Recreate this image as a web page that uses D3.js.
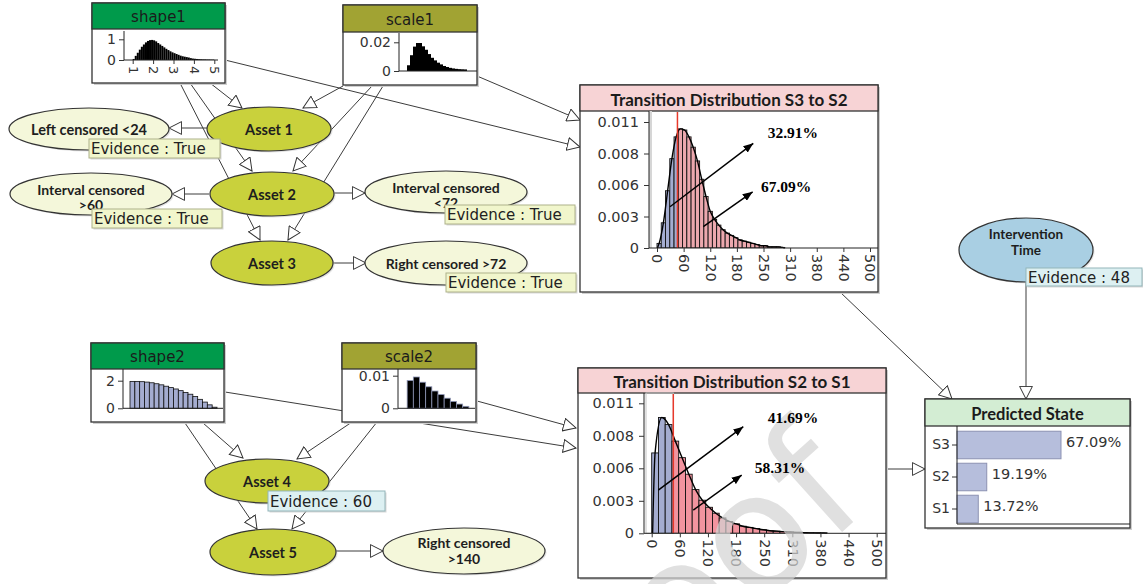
<!DOCTYPE html>
<html>
<head>
<meta charset="utf-8">
<script src="https://cdn.jsdelivr.net/npm/d3@7"></script>
<style>
  body { margin: 0; background: #fff; }
  svg { display: block; }
</style>
</head>
<body>
<div id="chart"></div>
<script>
//Datos leidos del grafico
// densidades de los histogramas (bins de ancho fijo)
const shape1Density = [0.05, 0.2, 0.35, 0.5, 0.64, 0.75, 0.85, 0.92, 0.96, 0.97,
  0.95, 0.9, 0.82, 0.75, 0.68, 0.61, 0.54, 0.48, 0.42, 0.37,
  0.33, 0.29, 0.25, 0.21, 0.18, 0.16, 0.14, 0.12, 0.09, 0.07,
  0.06, 0.05, 0.04, 0.035, 0.03, 0.03, 0.025, 0.025, 0.02, 0.02];
const scale1Density = [0.004, 0.011, 0.017, 0.0195, 0.0195, 0.0172, 0.0148, 0.0118, 0.0092, 0.0074,
  0.0058, 0.0046, 0.0035, 0.0028, 0.0022, 0.0018, 0.0015, 0.0013, 0.0012, 0.0011];
const shape2Density = [1.95, 1.95, 1.93, 1.9, 1.85, 1.78, 1.7, 1.6, 1.5, 1.4,
  1.28, 1.15, 1.02, 0.85, 0.65, 0.45, 0.25, 0.08];
const scale2Density = [0.0085, 0.0096, 0.008, 0.0066, 0.0053, 0.0042, 0.0031, 0.0021, 0.0013, 0.0006];
const s3s2Density = [0.0004, 0.0022, 0.005, 0.0078, 0.0097, 0.0104, 0.0103, 0.0097, 0.0088, 0.0076,
  0.006, 0.0045, 0.0032, 0.0025, 0.002, 0.0016, 0.0013, 0.0011, 0.0009, 0.0007,
  0.0006, 0.0005, 0.0004, 0.0003, 0.0002, 0.0002, 0.0001, 0.0001, 0.0001, 0.00005];
const s2s1Density = [0.0068, 0.0098, 0.0092, 0.0078, 0.0064, 0.005, 0.0037, 0.0028, 0.0022, 0.0017,
  0.0013, 0.001, 0.0008, 0.0006, 0.0005, 0.0004, 0.0003, 0.00022, 0.00018, 0.00014,
  0.00011, 0.00008, 0.00006, 0.00004, 0.00003, 0.00002];

// ejes
const shape1XTicks = [1, 2, 3, 4, 5];
const shape1YTicks = [0, 1];
const scale1YTicks = [0, 0.02];
const shape2YTicks = [0, 2];
const scale2YTicks = [0, 0.01];
const transXTicks = [0, 62.5, 125, 187.5, 250, 312.5, 375, 437.5, 500];
const transXLabels = ['0', '60', '120', '180', '250', '310', '380', '440', '500'];
const transYTicks = [0, 0.00275, 0.0055, 0.00825, 0.011];
const transYLabels = ['0', '0.003', '0.006', '0.008', '0.011'];

const interventionTime = 48;
const s3s2Split = ['32.91%', '67.09%'];
const s2s1Split = ['41.69%', '58.31%'];

const states = ['S3', 'S2', 'S1'];
const stateProb = [67.09, 19.19, 13.72];

//Colores
const C = {
  line: '#3c3c3c',
  asset: '#c9d13c',
  censor: '#f4f7da',
  interv: '#a9cfe3',
  evTrue: '#f1f6cc', evTrueStroke: '#aeb28a',
  evNum: '#ddf0f2', evNumStroke: '#93b6ba',
  headShape: '#009a4b', headScale: '#a1a333', headTrans: '#f7d3d5', headPred: '#d3edd3',
  blue: '#a4acd0', pinkA: '#eca8ae', pinkB: '#f2949f',
  predBar: '#b6bedc', predStroke: '#8c92b2', axis: '#333'
};
const FONT = '"DejaVu Sans", sans-serif';
const BOLD = 'Lato, "DejaVu Sans", sans-serif';

const W = 1143, H = 584;
const svg = d3.select('#chart').append('svg').attr('width', W).attr('height', H);
svg.append('rect').attr('width', W).attr('height', H).attr('fill', '#fff');

const defs = svg.append('defs');
defs.append('marker').attr('id', 'open')
  .attr('viewBox', '0 0 14 14').attr('refX', 13.2).attr('refY', 7)
  .attr('markerWidth', 14).attr('markerHeight', 14)
  .attr('markerUnits', 'userSpaceOnUse').attr('orient', 'auto')
  .append('path').attr('d', 'M0.6,0.6 L13.2,7 L0.6,13.4 Z')
  .attr('fill', '#fff').attr('stroke', '#333').attr('stroke-width', 1);
defs.append('marker').attr('id', 'solid')
  .attr('viewBox', '0 0 10 8').attr('refX', 10).attr('refY', 4)
  .attr('markerWidth', 10).attr('markerHeight', 8)
  .attr('markerUnits', 'userSpaceOnUse').attr('orient', 'auto')
  .append('path').attr('d', 'M0,0 L10,4 L0,8 Z').attr('fill', '#000');

const gEdges = svg.append('g');
const gNodes = svg.append('g');
const gEllipses = svg.append('g');
const gEvidence = svg.append('g');
const gMark = svg.append('g');
const gNotes = svg.append('g');

//////
///// Aristas
//////
const edges = [
  [210, 83, 242, 108], [190, 83, 252, 171], [180, 83, 260, 240],
  [343, 86, 303, 108], [372, 86, 293, 171], [383, 86, 288, 240],
  [225, 60, 580, 147], [477, 76, 580, 120],
  [207, 128, 169, 128], [209, 194, 172, 194], [334, 193, 365, 193], [333, 263, 366, 263],
  [203, 423, 243, 458], [185, 423, 257, 529], [352, 422, 297, 459], [377, 422, 292, 529],
  [225, 392, 576, 448], [477, 401, 576, 428], [336, 551, 383, 551],
  [840, 292, 952, 399], [886, 469, 925, 469], [1026, 282, 1026, 399]
];
gEdges.selectAll('line').data(edges).enter().append('line')
  .attr('x1', d => d[0]).attr('y1', d => d[1]).attr('x2', d => d[2]).attr('y2', d => d[3])
  .attr('stroke', C.line).attr('stroke-width', 1).attr('marker-end', 'url(#open)');

//////
///// Cajas
//////
function box(b, title, head, titleFont, titleSize, weight) {
  const g = gNodes.append('g');
  g.append('rect').attr('x', b.x + 2).attr('y', b.y + 2).attr('width', b.w).attr('height', b.h).attr('fill', '#cfcfcf');
  g.append('rect').attr('x', b.x).attr('y', b.y).attr('width', b.w).attr('height', b.h)
    .attr('fill', '#fff').attr('stroke', '#333').attr('stroke-width', 1.3);
  g.append('rect').attr('x', b.x).attr('y', b.y).attr('width', b.w).attr('height', b.hh)
    .attr('fill', head).attr('stroke', '#333').attr('stroke-width', 1.3);
  g.append('text').attr('x', b.x + b.w / 2).attr('y', b.y + b.hh / 2 + 1)
    .attr('text-anchor', 'middle').attr('dominant-baseline', 'central')
    .attr('font-family', titleFont).attr('font-size', titleSize).attr('font-weight', weight)
    .attr('fill', '#1b1b1b').text(title);
  return g;
}

function yAxis(g, y, left, ticks, labels, fs, pad) {
  const a = g.append('g').attr('transform', `translate(${left},0)`)
    .call(d3.axisLeft(y).tickValues(ticks).tickFormat((d, i) => labels[i]).tickSize(5).tickSizeOuter(0));
  a.select('.domain').remove();
  a.attr('font-family', FONT).attr('font-size', fs);
  a.selectAll('.tick line').attr('stroke', C.axis);
  a.selectAll('.tick text').attr('fill', '#333').attr('x', -pad);
}

function xAxisRot(g, x, base, ticks, labels, fs) {
  const a = g.append('g').attr('transform', `translate(0,${base})`)
    .call(d3.axisBottom(x).tickValues(ticks).tickFormat((d, i) => labels[i]).tickSize(4).tickSizeOuter(0));
  a.select('.domain').remove();
  a.attr('font-family', FONT).attr('font-size', fs);
  a.selectAll('.tick line').attr('stroke', C.axis);
  a.selectAll('.tick text').attr('transform', 'rotate(90)').attr('x', 6).attr('y', 0)
    .attr('dy', '0.35em').attr('text-anchor', 'start').attr('fill', '#333');
}

function frame(g, left, right, top, base) {
  g.append('line').attr('x1', left).attr('x2', left).attr('y1', top).attr('y2', base).attr('stroke', '#222');
  g.append('line').attr('x1', left).attr('x2', right).attr('y1', base).attr('y2', base).attr('stroke', '#222');
}

function bars(g, density, x0, step, x, y, fill, stroke, sw) {
  g.append('g').selectAll('rect').data(density).enter().append('rect')
    .attr('x', (d, i) => x(x0 + i * step))
    .attr('width', (d, i) => x(x0 + (i + 1) * step) - x(x0 + i * step))
    .attr('y', d => y(d))
    .attr('height', d => y(0) - y(d))
    .attr('fill', fill).attr('stroke', stroke).attr('stroke-width', sw);
}

// miniaturas
function thumb(cfg) {
  const g = box(cfg.box, cfg.title, cfg.head, FONT, 15, 'normal');
  const x = d3.scaleLinear().domain(cfg.xd).range(cfg.xr);
  const y = d3.scaleLinear().domain(cfg.yd).range(cfg.yr);
  bars(g, cfg.density, cfg.x0, cfg.step, x, y, cfg.fill, cfg.stroke, cfg.sw);
  frame(g, cfg.left, cfg.right, cfg.top, cfg.yr[0]);
  yAxis(g, y, cfg.left, cfg.yTicks, cfg.yTicks.map(String), 14, 8);
  if (cfg.xTicks) xAxisRot(g, x, cfg.yr[0], cfg.xTicks, cfg.xTicks.map(String), 13);
}

thumb({ box: {x: 92, y: 3, w: 133, h: 80, hh: 26}, title: 'shape1', head: C.headShape,
  xd: [1, 5], xr: [132.7, 214.3], yd: [0, 1], yr: [60, 39.3], left: 124, right: 218, top: 31,
  density: shape1Density, x0: 1.0, step: 0.1, fill: '#000', stroke: 'none', sw: 0,
  yTicks: shape1YTicks, xTicks: shape1XTicks });
thumb({ box: {x: 343, y: 5, w: 134, h: 80, hh: 27}, title: 'scale1', head: C.headScale,
  xd: [0, 250], xr: [401, 476], yd: [0, 0.02], yr: [71, 42.3], left: 399, right: 477, top: 33,
  density: scale1Density, x0: 20, step: 10, fill: '#000', stroke: 'none', sw: 0,
  yTicks: scale1YTicks });
thumb({ box: {x: 91, y: 343, w: 133, h: 79, hh: 26}, title: 'shape2', head: C.headShape,
  xd: [0.5, 5], xr: [130, 217], yd: [0, 2], yr: [408.3, 380.7], left: 123, right: 223, top: 369,
  density: shape2Density, x0: 0.5, step: 0.25, fill: C.blue, stroke: '#111', sw: 0.8,
  yTicks: shape2YTicks });
thumb({ box: {x: 342, y: 343, w: 134, h: 79, hh: 26}, title: 'scale2', head: C.headScale,
  xd: [0, 240], xr: [401, 475], yd: [0, 0.01], yr: [408.3, 375.7], left: 398, right: 475, top: 369,
  density: scale2Density, x0: 20, step: 20, fill: '#000', stroke: '#8d95b6', sw: 0.8,
  yTicks: scale2YTicks });

// distribuciones de transicion
function transition(cfg) {
  const g = box(cfg.box, cfg.title, C.headTrans, BOLD, 17, 'bold');
  const x = d3.scaleLinear().domain([0, 500]).range(cfg.xr);
  const y = d3.scaleLinear().domain([0, 0.011]).range(cfg.yr);
  const base = cfg.yr[0];
  const xi = x(interventionTime);

  const clipL = 'clip-l-' + cfg.id, clipR = 'clip-r-' + cfg.id;
  defs.append('clipPath').attr('id', clipL).append('rect')
    .attr('x', cfg.left).attr('y', cfg.top).attr('width', xi - cfg.left).attr('height', base - cfg.top);
  defs.append('clipPath').attr('id', clipR).append('rect')
    .attr('x', xi).attr('y', cfg.top).attr('width', cfg.right - xi).attr('height', base - cfg.top);

  if (cfg.id === 'b') {
    g.append('rect').attr('x', cfg.left + 2).attr('y', cfg.top).attr('width', xi - cfg.left - 2)
      .attr('height', base - cfg.top).attr('fill', 'none').attr('stroke', '#c4c4c4');
  } else {
    g.append('rect').attr('x', cfg.left).attr('y', cfg.top).attr('width', 3)
      .attr('height', base - cfg.top).attr('fill', '#d6d6d6');
  }

  const gl = g.append('g').attr('clip-path', `url(#${clipL})`);
  bars(gl, cfg.density, 0, cfg.step, x, y, C.blue, '#111', 0.9);
  const gr = g.append('g').attr('clip-path', `url(#${clipR})`);
  bars(gr, cfg.density, 0, cfg.step, x, y, cfg.pink, '#111', 0.9);

  // contorno de la curva
  const pts = [[cfg.start, 0]].concat(cfg.density.map((d, i) => [(i + 0.5) * cfg.step, d]));
  pts.push([cfg.density.length * cfg.step, 0]);
  g.append('path').datum(pts)
    .attr('d', d3.line().x(d => x(d[0])).y(d => y(d[1])).curve(d3.curveMonotoneX))
    .attr('fill', 'none').attr('stroke', '#000').attr('stroke-width', 1.4);

  // linea de intervencion
  g.append('line').attr('x1', xi).attr('x2', xi).attr('y1', cfg.top + 1).attr('y2', base)
    .attr('stroke', '#e8392b').attr('stroke-width', 1.5);

  frame(g, cfg.left, cfg.right, cfg.top, base);
  yAxis(g, y, cfg.left, transYTicks, transYLabels, 14.5, 10);
  xAxisRot(g, x, base, transXTicks, transXLabels, 14.5);

  // anotaciones (por encima de la marca de agua)
  cfg.arrows.forEach(a => {
    gNotes.append('line').attr('x1', x(a[0])).attr('y1', y(a[1])).attr('x2', x(a[2])).attr('y2', y(a[3]))
      .attr('stroke', '#000').attr('stroke-width', 1.5).attr('marker-end', 'url(#solid)');
  });
  cfg.labels.forEach((l, i) => {
    gNotes.append('text').attr('x', x(l[0])).attr('y', y(l[1]))
      .attr('text-anchor', 'middle').attr('dominant-baseline', 'central')
      .attr('font-family', '"Liberation Serif", serif').attr('font-weight', 'bold').attr('font-size', 15.5)
      .attr('fill', '#000').text(cfg.split[i]);
  });
}

transition({ id: 'a', box: {x: 580, y: 85, w: 298, h: 207, hh: 26}, title: 'Transition Distribution S3 to S2',
  xr: [657, 870], yr: [248, 122], left: 649, right: 878, top: 111, start: 1,
  density: s3s2Density, step: 10, pink: C.pinkA, split: s3s2Split,
  arrows: [[30.5, 0.0036, 226, 0.00914], [108.7, 0.00186, 224.6, 0.0049]],
  labels: [[319, 0.01004], [303, 0.0054]] });
transition({ id: 'b', box: {x: 578, y: 368, w: 308, h: 210, hh: 25}, title: 'Transition Distribution S2 to S1',
  xr: [651.7, 876.7], yr: [533.3, 403.3], left: 644, right: 886, top: 393, start: 2,
  density: s2s1Density, step: 15, pink: C.pinkB, split: s2s1Split,
  arrows: [[14.7, 0.00366, 203.6, 0.00902], [92.4, 0.00197, 200, 0.00493]],
  labels: [[314, 0.00976], [285, 0.00553]] });

// estado predicho
(function() {
  const b = {x: 925, y: 399, w: 205, h: 129, hh: 27};
  const g = box(b, 'Predicted State', C.headPred, BOLD, 16.5, 'bold');
  const x = d3.scaleLinear().domain([0, 100]).range([957, 1112]);
  const y = d3.scaleBand().domain(states).range([429, 525]).paddingInner(0.14).paddingOuter(0.07);
  g.append('g').selectAll('rect').data(stateProb).enter().append('rect')
    .attr('x', x(0)).attr('y', (d, i) => y(states[i]))
    .attr('width', d => x(d) - x(0)).attr('height', y.bandwidth())
    .attr('fill', C.predBar).attr('stroke', C.predStroke).attr('stroke-width', 1);
  g.append('g').selectAll('text').data(stateProb).enter().append('text')
    .attr('x', d => x(d) + 5).attr('y', (d, i) => y(states[i]) + y.bandwidth() / 2 - 3)
    .attr('dominant-baseline', 'central').attr('font-family', FONT).attr('font-size', 14.5)
    .attr('fill', '#333').text(d => d.toFixed(2) + '%');
  const a = g.append('g').attr('transform', `translate(${x(0)},0)`)
    .call(d3.axisLeft(y).tickSize(5).tickSizeOuter(0));
  a.select('.domain').remove();
  a.attr('font-family', FONT).attr('font-size', 14);
  a.selectAll('.tick line').attr('stroke', C.axis);
  a.selectAll('.tick text').attr('fill', '#333').attr('x', -7);
  frame(g, x(0), b.x + b.w, b.y + b.hh, 524);
})();

//////
///// Elipses
//////
const ellipses = [
  {cx: 269, cy: 129, rx: 62, ry: 22, fill: C.asset, lines: ['Asset 1'], dy: [0], fs: 14.5},
  {cx: 272, cy: 194, rx: 62, ry: 22, fill: C.asset, lines: ['Asset 2'], dy: [0], fs: 14.5},
  {cx: 272, cy: 263, rx: 61, ry: 22, fill: C.asset, lines: ['Asset 3'], dy: [0], fs: 14.5},
  {cx: 89, cy: 129, rx: 80, ry: 21, fill: C.censor, lines: ['Left censored <24'], dy: [0], fs: 14.5},
  {cx: 91, cy: 194, rx: 81, ry: 21, fill: C.censor, lines: ['Interval censored', '>60'], dy: [-5, 10], fs: 14},
  {cx: 446, cy: 192, rx: 81, ry: 21, fill: C.censor, lines: ['Interval censored', '<72'], dy: [-5, 10], fs: 14},
  {cx: 446, cy: 263, rx: 81, ry: 22, fill: C.censor, lines: ['Right censored >72'], dy: [0], fs: 14},
  {cx: 267, cy: 481, rx: 62, ry: 22, fill: C.asset, lines: ['Asset 4'], dy: [0], fs: 14.5},
  {cx: 273, cy: 552, rx: 63, ry: 23, fill: C.asset, lines: ['Asset 5'], dy: [0], fs: 14.5},
  {cx: 464, cy: 551, rx: 81, ry: 23, fill: C.censor, lines: ['Right censored', '>140'], dy: [-9, 7], fs: 14},
  {cx: 1026, cy: 250, rx: 67, ry: 32, fill: C.interv, lines: ['Intervention', 'Time'], dy: [-16, 0], fs: 13.5}
];
ellipses.forEach(e => {
  gEllipses.append('ellipse').attr('cx', e.cx + 1.5).attr('cy', e.cy + 1.5).attr('rx', e.rx).attr('ry', e.ry)
    .attr('fill', '#d0d0d0').attr('opacity', 0.6);
  gEllipses.append('ellipse').attr('cx', e.cx).attr('cy', e.cy).attr('rx', e.rx).attr('ry', e.ry)
    .attr('fill', e.fill).attr('stroke', '#333').attr('stroke-width', 1.2);
  e.lines.forEach((t, i) => {
    gEllipses.append('text').attr('x', e.cx).attr('y', e.cy + e.dy[i])
      .attr('text-anchor', 'middle').attr('dominant-baseline', 'central')
      .attr('font-family', BOLD).attr('font-weight', 'bold').attr('font-size', e.fs)
      .attr('fill', '#1e1e1e').text(t);
  });
});

//////
///// Evidencias
//////
const evidence = [
  {x: 89, y: 139, w: 131, h: 19, text: 'Evidence : True', fill: C.evTrue, stroke: C.evTrueStroke},
  {x: 92, y: 209, w: 130, h: 19, text: 'Evidence : True', fill: C.evTrue, stroke: C.evTrueStroke},
  {x: 445, y: 205, w: 130, h: 19, text: 'Evidence : True', fill: C.evTrue, stroke: C.evTrueStroke},
  {x: 446, y: 273, w: 130, h: 19, text: 'Evidence : True', fill: C.evTrue, stroke: C.evTrueStroke},
  {x: 268, y: 491, w: 117, h: 20, text: 'Evidence : 60', fill: C.evNum, stroke: C.evNumStroke},
  {x: 1026, y: 268, w: 116, h: 18, text: 'Evidence : ' + interventionTime, fill: C.evNum, stroke: C.evNumStroke}
];
evidence.forEach(e => {
  gEvidence.append('rect').attr('x', e.x + 1.5).attr('y', e.y + 1.5).attr('width', e.w).attr('height', e.h)
    .attr('fill', '#c8c8c8').attr('opacity', 0.7);
  gEvidence.append('rect').attr('x', e.x).attr('y', e.y).attr('width', e.w).attr('height', e.h)
    .attr('fill', e.fill).attr('stroke', e.stroke).attr('stroke-width', 1);
  gEvidence.append('text').attr('x', e.x + 2).attr('y', e.y + e.h / 2 + 0.5)
    .attr('dominant-baseline', 'central').attr('font-family', FONT).attr('font-size', 15)
    .attr('fill', '#222').text(e.text);
});

// marca de agua
gMark.append('text').attr('transform', 'translate(872,505) rotate(-42)')
  .attr('text-anchor', 'end').attr('font-family', FONT).attr('font-size', 165)
  .attr('fill', '#d4d4d4').attr('opacity', 0.7).text('Proof');
</script>
</body>
</html>
